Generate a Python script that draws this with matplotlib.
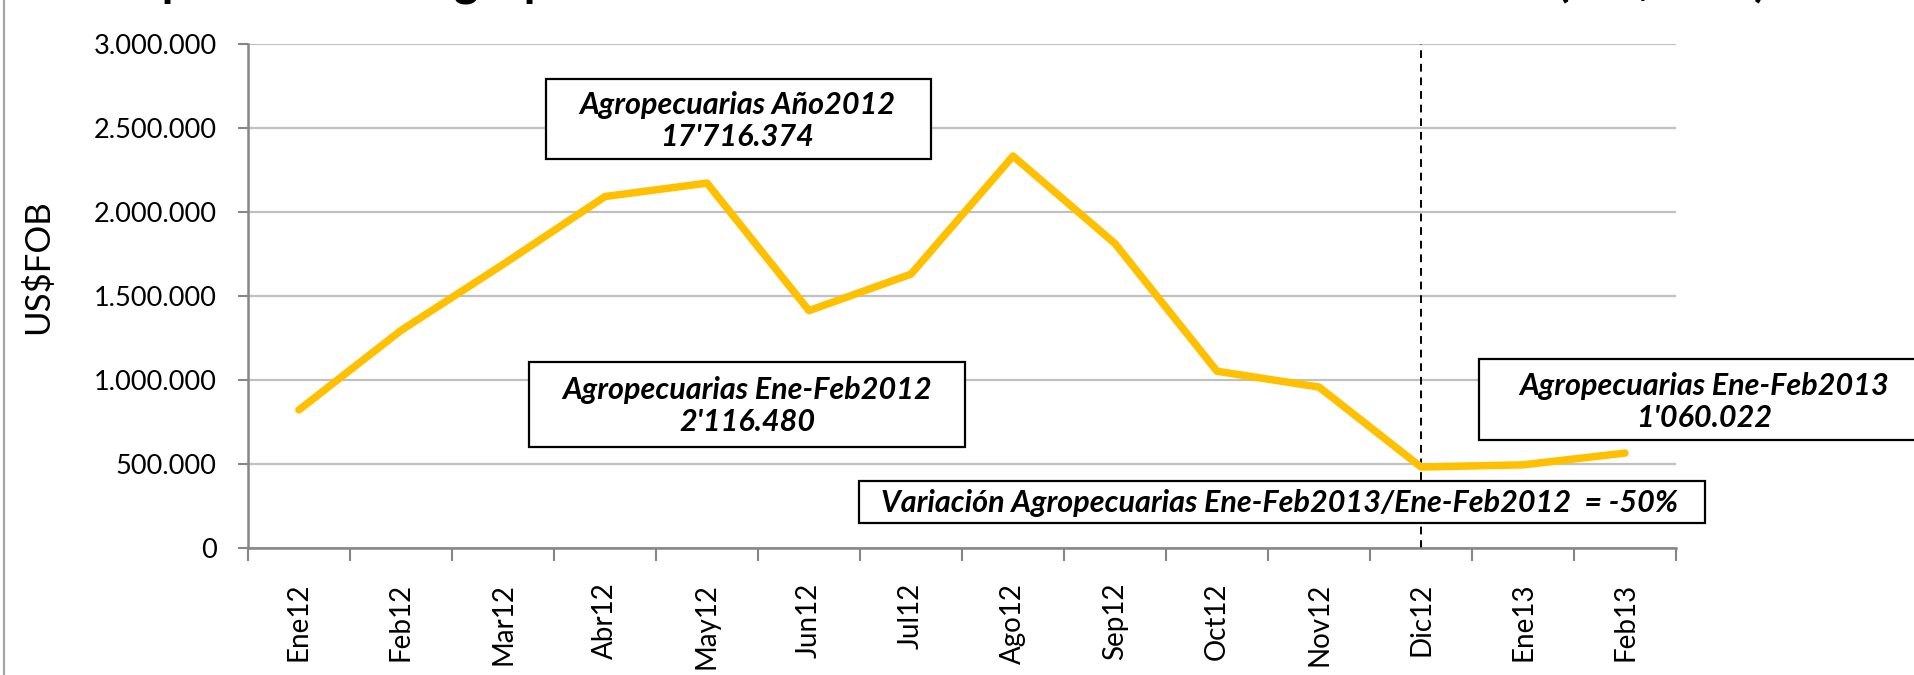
import matplotlib
matplotlib.use("Agg")
import matplotlib.pyplot as plt
from matplotlib.patches import Rectangle
from matplotlib.lines import Line2D
from matplotlib.ticker import FuncFormatter, FixedLocator, NullFormatter
import numpy as np

# ---- data ----
months = ["Ene12", "Feb12", "Mar12", "Abr12", "May12", "Jun12", "Jul12",
          "Ago12", "Sep12", "Oct12", "Nov12", "Dic12", "Ene13", "Feb13"]
values = [822000, 1295000, 1688000, 2092000, 2172000, 1413000, 1630000,
          2333000, 1812000, 1052000, 958000, 482000, 495000, 565000]
y_ticks = [0, 500000, 1000000, 1500000, 2000000, 2500000, 3000000]
marker_month = "Dic12"

title_text = "Exportaciones Agropecuarias Mensuales Enero 2012 - Febrero 2013 (US$FOB)"
ylabel_text = "US$FOB"
box_year = "Agropecuarias Año2012\n17'716.374"
box_ef12 = "Agropecuarias Ene-Feb2012\n2'116.480"
box_ef13 = "Agropecuarias Ene-Feb2013\n1'060.022"
box_var = "Variación Agropecuarias Ene-Feb2013/Ene-Feb2012  = -50%"

# ---- layout helpers (pixel coords of the 1915x675 canvas) ----
W, H = 1915, 675
def fx(px):
    return px / W
def fy(py):
    return 1 - py / H

fig = plt.figure(figsize=(W / 100, H / 100), dpi=100)
fig.patch.set_facecolor("white")

ax_l, ax_r, ax_t, ax_b = 248, 1676, 44, 548
ax = fig.add_axes([fx(ax_l), fy(ax_b), (ax_r - ax_l) / W, (ax_b - ax_t) / H])

n = len(months)
x = np.arange(n) + 0.5
ax.plot(x, values, color="#FFC000", lw=5.4, solid_capstyle="round",
        solid_joinstyle="round", zorder=3)

ax.set_xlim(0, n)
ax.set_ylim(y_ticks[0], y_ticks[-1])

grey_axis = "#868686"
# y axis
ax.set_yticks(y_ticks)
ax.yaxis.set_major_formatter(FuncFormatter(lambda v, p: f"{int(v):,}".replace(",", ".")))
ax.tick_params(axis="y", direction="out", length=7.5, width=1.5, color=grey_axis,
               labelsize=19.5, pad=15)
# x axis: tick marks at boundaries, labels at centers
ax.xaxis.set_major_locator(FixedLocator(np.arange(n + 1)))
ax.xaxis.set_major_formatter(NullFormatter())
ax.xaxis.set_minor_locator(FixedLocator(x))
ax.set_xticklabels(months, minor=True, rotation=90)
ax.tick_params(axis="x", which="major", direction="out", length=9, width=1.5,
               color=grey_axis)
ax.tick_params(axis="x", which="minor", length=0, labelsize=20, pad=25)

for lab in ax.get_xticklabels(minor=True) + ax.get_yticklabels():
    lab.set_family("Lato")
    lab.set_color("black")

for s in ["top", "right"]:
    ax.spines[s].set_visible(False)
for s in ["left", "bottom"]:
    ax.spines[s].set_color(grey_axis)
    ax.spines[s].set_linewidth(1.8)

ax.grid(axis="y", color="#C0C0C0", lw=1.6, zorder=0)
ax.set_axisbelow(True)

ax.axvline(x[months.index(marker_month)], color="black", lw=1.4,
           ls=(0, (4, 3)), zorder=2)

# y-axis title, placed in figure pixels
fig.text(fx(38), fy(267), ylabel_text, rotation=90, ha="center", va="center",
         family="Lato", fontsize=25)

# ---- annotation boxes ----
def add_box(x0, y0, x1, y1, cx, cy, text):
    r = Rectangle((fx(x0), fy(y1)), fx(x1) - fx(x0), fy(y0) - fy(y1),
                  transform=fig.transFigure, facecolor="white",
                  edgecolor="black", lw=1.6, zorder=5)
    fig.patches.append(r)
    fig.text(fx(cx), fy(cy), text, ha="center", va="center",
             family="Lato", fontweight="bold", fontstyle="italic",
             fontsize=22, linespacing=1.2, zorder=6)

add_box(546, 79, 931, 159, 737, 121, box_year)
add_box(529, 362, 965, 447, 747, 406, box_ef12)
add_box(1479, 359, 1930, 440, 1704, 402, box_ef13)
add_box(859, 481, 1705, 523, 1280, 503, box_var)

# ---- cut-off title at the very top ----
fig.text(fx(110), fy(-5), title_text, ha="left", va="baseline",
         family="Lato", fontweight="bold", fontsize=34)

# chart-area border on the left
fig.add_artist(Line2D([fx(4), fx(4)], [0, 1], transform=fig.transFigure,
                      color="#A6A6A6", lw=1.6))

fig.savefig("out.png", dpi=100, facecolor="white")
